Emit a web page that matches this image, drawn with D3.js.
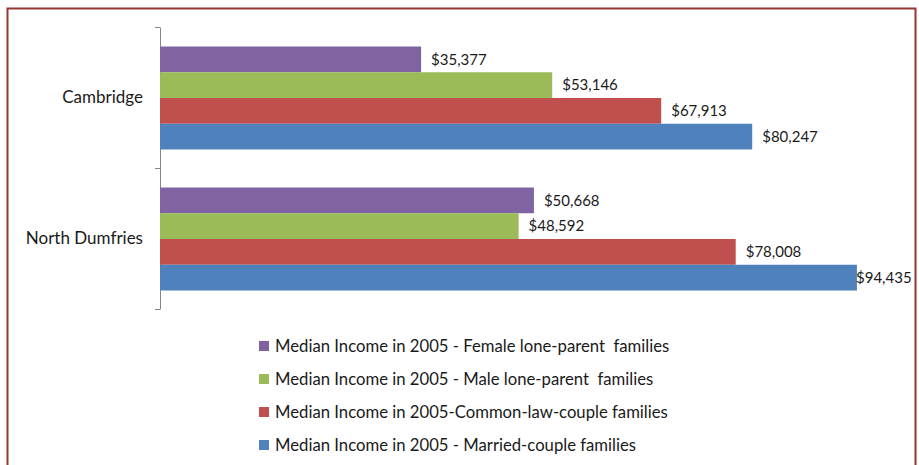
<!DOCTYPE html>
<html>
<head>
<meta charset="utf-8">
<script src="https://cdn.jsdelivr.net/npm/d3@7"></script>
<style>
  body { margin: 0; background: #fff; }
  text { font-family: Lato, "Open Sans", sans-serif; fill: #1a1a1a; }
</style>
</head>
<body>
<div id="chart"></div>
<script>
// Data
const categories = ["Cambridge", "North Dumfries"];
const seriesNames = [
    "Median Income in 2005 - Female lone-parent  families",
    "Median Income in 2005 - Male lone-parent  families",
    "Median Income in 2005-Common-law-couple families",
    "Median Income in 2005 - Married-couple families"
];
const femaleLone = [35377, 50668];
const maleLone = [53146, 48592];
const commonLaw = [67913, 78008];
const married = [80247, 94435];
const seriesColors = ["#8064A2", "#9BBB59", "#C0504D", "#4F81BD"];

const seriesValues = [femaleLone, maleLone, commonLaw, married];

const width = 919, height = 465;

const svg = d3.select("#chart")
    .append("svg")
    .attr("width", width)
    .attr("height", height);

// Outer frame (bottom edge falls off the picture)
svg.append("rect")
    .attr("x", 7.5)
    .attr("y", 8.5)
    .attr("width", 908)
    .attr("height", 470)
    .attr("fill", "none")
    .attr("stroke", "#953735")
    .attr("stroke-width", 2);

// Scales
const x = d3.scaleLinear()
    .domain([0, 100000])
    .range([160, 898]);

const y = d3.scaleBand()
    .domain(categories)
    .range([27, 309]);

const ySub = d3.scaleBand()
    .domain(d3.range(seriesNames.length))
    .range([19.5, y.bandwidth() - 18.5]);

// Category axis, ticks on the band boundaries
const tickScale = d3.scaleLinear()
    .domain([0, categories.length])
    .range([27, 309]);

const axisG = svg.append("g")
    .attr("transform", `translate(${x(0)},0)`)
    .call(d3.axisLeft(tickScale)
        .tickValues(d3.range(categories.length + 1))
        .tickSize(5)
        .tickSizeOuter(0)
        .tickFormat(""));
axisG.selectAll("path, line").attr("stroke", "#868686");

// Category labels
svg.selectAll(".cat")
    .data(categories)
    .enter().append("text")
    .attr("class", "cat")
    .attr("x", 143)
    .attr("y", d => y(d) + y.bandwidth() / 2)
    .attr("dy", "0.35em")
    .attr("text-anchor", "end")
    .style("font-size", "17px")
    .text(d => d);

// Bars + labels
const rows = [];
categories.forEach((c, ci) => {
    seriesValues.forEach((vals, si) => {
        rows.push({cat: c, s: si, value: vals[ci]});
    });
});

svg.selectAll(".bar")
    .data(rows)
    .enter().append("rect")
    .attr("class", "bar")
    .attr("x", x(0))
    .attr("y", d => y(d.cat) + ySub(d.s))
    .attr("width", d => x(d.value) - x(0))
    .attr("height", ySub.bandwidth())
    .attr("fill", d => seriesColors[d.s]);

const fmt = d3.format(",");
svg.selectAll(".val")
    .data(rows)
    .enter().append("text")
    .attr("class", "val")
    .attr("x", d => Math.min(x(d.value) + 10, 856))
    .attr("y", d => y(d.cat) + ySub(d.s) + ySub.bandwidth() / 2)
    .attr("dy", "0.35em")
    .style("font-size", "15px")
    .text(d => "$" + fmt(d.value));

// Legend
const legend = svg.selectAll(".legend")
    .data(seriesNames)
    .enter().append("g")
    .attr("class", "legend")
    .attr("transform", (d, i) => `translate(259,${346 + i * 33})`);

legend.append("rect")
    .attr("x", 0)
    .attr("y", -5)
    .attr("width", 10)
    .attr("height", 10)
    .attr("fill", (d, i) => seriesColors[i]);

legend.append("text")
    .attr("x", 16)
    .attr("y", 0)
    .attr("dy", "0.35em")
    .style("font-size", "16.7px")
    .style("white-space", "pre")
    .text(d => d);
</script>
</body>
</html>
